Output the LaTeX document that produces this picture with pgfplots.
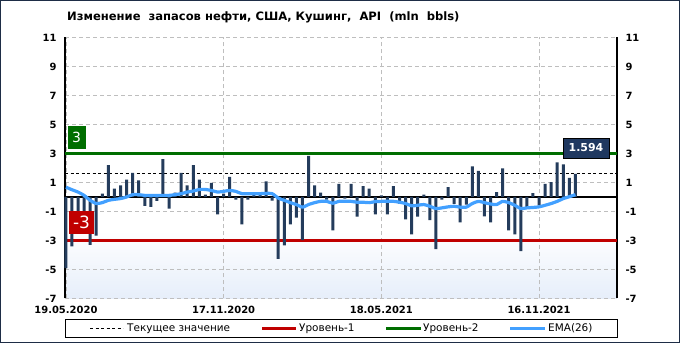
\documentclass[border=0pt]{standalone}
\usepackage{fontspec}
\setmainfont{DejaVu Sans}
\usepackage{pgfplots}
\usepackage{pgfplotstable}
\pgfplotsset{compat=1.18}
\definecolor{barc}{RGB}{36,60,92}
\definecolor{grn}{RGB}{0,110,0}
\definecolor{redl}{RGB}{192,0,0}
\definecolor{emac}{RGB}{66,160,255}
\definecolor{gridc}{RGB}{190,190,190}
\definecolor{navy}{RGB}{31,56,96}
\definecolor{framec}{RGB}{30,45,70}
\definecolor{shadec}{RGB}{230,238,250}

\pgfplotstableread{
i v
0 -4.9
1 -3.4
2 -1.9
3 -1.6
4 -3.3
5 -2.66
6 0.23
7 2.2
8 0.57
9 0.8
10 1.2
11 1.66
12 1.14
13 -0.61
14 -0.68
15 -0.27
16 2.61
17 -0.8
18 0.3
19 1.66
20 0.8
21 2.2
22 1.2
23 0.16
24 0.98
25 -1.2
26 0.23
27 1.39
28 -0.18
29 -1.89
30 -0.18
31 0.34
32 0.3
33 1.07
34 -0.25
35 -4.27
36 -3.34
37 -1.89
38 -1.43
39 -2.98
40 2.84
41 0.8
42 0.3
43 -0.18
44 -2.3
45 0.9
46 -0.11
47 0.9
48 -1.36
49 0.75
50 0.57
51 -1.2
52 0.11
53 -1.2
54 0.75
55 -0.45
56 -1.55
57 -2.57
58 -1.36
59 0.16
60 -1.6
61 -3.59
62 -0.18
63 0.68
64 -0.48
65 -1.75
66 -0.52
67 2.11
68 1.8
69 -1.34
70 -1.75
71 0.34
72 1.98
73 -2.3
74 -2.57
75 -3.73
76 -0.7
77 0.27
78 -0.57
79 0.9
80 1.02
81 2.39
82 2.25
83 1.32
84 1.594
}\bars

\pgfplotstableread{
i e
0 0.68
1 0.5
2 0.34
3 0.11
4 -0.23
5 -0.45
6 -0.39
7 -0.23
8 -0.16
9 -0.11
10 0.0
11 0.16
12 0.16
13 0.11
14 0.11
15 0.11
16 0.11
17 0.11
18 0.16
19 0.23
20 0.34
21 0.41
22 0.52
23 0.52
24 0.45
25 0.34
26 0.39
27 0.45
28 0.39
29 0.23
30 0.23
31 0.23
32 0.23
33 0.25
34 0.23
35 -0.07
36 -0.23
37 -0.39
38 -0.52
39 -0.7
40 -0.52
41 -0.39
42 -0.3
43 -0.3
44 -0.43
45 -0.3
46 -0.3
47 -0.3
48 -0.36
49 -0.36
50 -0.39
51 -0.32
52 -0.3
53 -0.3
54 -0.3
55 -0.36
56 -0.45
57 -0.61
58 -0.57
59 -0.52
60 -0.64
61 -0.8
62 -0.75
63 -0.68
64 -0.64
65 -0.7
66 -0.7
67 -0.45
68 -0.3
69 -0.39
70 -0.48
71 -0.52
72 -0.3
73 -0.39
74 -0.57
75 -0.8
76 -0.75
77 -0.72
78 -0.68
79 -0.57
80 -0.45
81 -0.3
82 -0.11
83 0.02
84 0.16
}\ema

\begin{document}
\begin{tikzpicture}
\useasboundingbox (0,0) rectangle (680bp,343bp);
\fill[white] (0,0) rectangle (680bp,343bp);
\shade[top color=white, bottom color=shadec] (65bp,44.5bp) rectangle (617bp,112bp);
\begin{axis}[
  at={(65bp,44.5bp)}, anchor=south west,
  width=552bp, height=261bp, scale only axis,
  xmin=-0.15, xmax=90.85, ymin=-7, ymax=11,
  xtick={0,26,52,78},
  xticklabels={19.05.2020,17.11.2020,18.05.2021,16.11.2021},
  ytick={-7,-5,...,11},
  grid=major,
  major grid style={draw=gridc, dash pattern=on 4bp off 3bp, line width=0.8bp},
  major tick length=0pt,
  axis line style={draw=none},
  tick label style={font=\bfseries\fontsize{10}{12}\selectfont},
  /pgf/number format/assume math mode=true,
  xticklabel style={yshift=-4bp},
  yticklabel style={xshift=-5bp},
  clip=false,
]
\addplot[black, line width=1.1bp, forget plot] coordinates {(-0.15,-7) (-0.15,11)};
\addplot[black, line width=1.1bp, forget plot] coordinates {(90.85,-7) (90.85,11)};
\addplot[black, line width=1.1bp] coordinates {(-0.15,0) (90.85,0)};
\addplot[black, line width=1.2bp, dash pattern=on 3bp off 2.5bp] coordinates {(-0.15,1.594) (90.85,1.594)};
\addplot[grn, line width=2.3bp] coordinates {(-0.15,3) (90.85,3)};
\addplot[redl, line width=2.3bp] coordinates {(-0.15,-3) (90.85,-3)};
\addplot[ybar, bar width=3bp, bar shift=0pt, fill=barc, draw=none] table[x=i,y=v] {\bars};
\addplot[emac, line width=3.2bp, line join=round, smooth, tension=0.4] table[x=i,y=e] {\ema};
\end{axis}
\begin{axis}[
  at={(65bp,44.5bp)}, anchor=south west,
  width=552bp, height=261bp, scale only axis,
  xmin=-0.15, xmax=90.85, ymin=-7, ymax=11,
  hide x axis, axis y line*=right,
  ytick={-7,-5,...,11},
  major tick length=0pt,
  axis line style={draw=none},
  tick label style={font=\bfseries\fontsize{10}{12}\selectfont},
  /pgf/number format/assume math mode=true,
  yticklabel style={xshift=5bp},
]
\addplot[draw=none] coordinates {(0,0)};
\end{axis}
% level labels
\node[fill=grn, text=white, minimum width=18bp, minimum height=23bp, inner sep=0, font=\fontsize{14}{16}\selectfont] at (76.5bp,205.5bp) {3};
\node[fill=redl, text=white, minimum width=25bp, minimum height=23bp, inner sep=0, font=\fontsize{17}{19}\selectfont] at (81.5bp,120.5bp) {-3};
\node[fill=navy, draw=black, line width=0.8bp, text=white, minimum width=46bp, minimum height=20bp, inner sep=0, font=\bfseries\fontsize{11}{13}\selectfont] at (586bp,195bp) {1.594};
% title
\node[anchor=west, inner sep=0, font=\bfseries\fontsize{11.6}{13}\selectfont] at (67bp,326bp) {Изменение\ \ запасов нефти, США, Кушинг,\ \ API\ \ (mln\ \ bbls)};
% legend
\draw[black, line width=0.8bp] (65bp,5.5bp) rectangle (617bp,23.5bp);
\begin{scope}[every node/.style={anchor=west, inner sep=0, font=\fontsize{10.5}{12}\selectfont}]
\draw[black, line width=1.2bp, dash pattern=on 3bp off 2.5bp] (90bp,14.5bp) -- (123bp,14.5bp);
\node at (127bp,14.5bp) {Текущее значение};
\draw[redl, line width=2.3bp] (262bp,14.5bp) -- (296bp,14.5bp);
\node at (299bp,14.5bp) {Уровень-1};
\draw[grn, line width=2.3bp] (386bp,14.5bp) -- (421bp,14.5bp);
\node at (423bp,14.5bp) {Уровень-2};
\draw[emac, line width=3.2bp] (510bp,14.5bp) -- (545bp,14.5bp);
\node at (548bp,14.5bp) {EMA(26)};
\end{scope}
\draw[framec, line width=1bp] (0.5bp,0.5bp) rectangle (679.5bp,342.5bp);
\end{tikzpicture}
\end{document}
